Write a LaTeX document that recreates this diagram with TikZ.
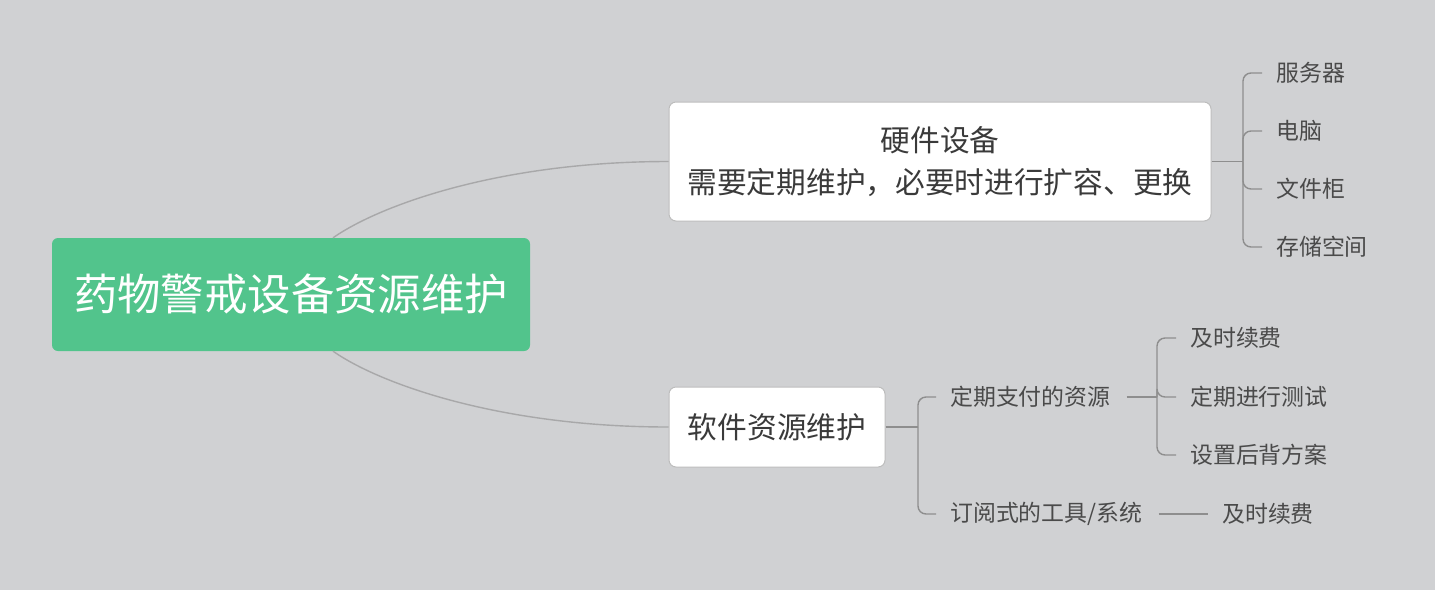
\documentclass[tikz,border=0pt]{standalone}
\usepackage{fontspec}
\setmainfont{Noto Sans CJK SC}
\begin{document}
\definecolor{bgc}{HTML}{D0D1D3}
\definecolor{rootc}{HTML}{52C48C}
\definecolor{boxline}{HTML}{BDBDBD}
\definecolor{rline}{HTML}{A8A8A9}
\definecolor{bline}{HTML}{8E8E8E}
\definecolor{txtc}{HTML}{3A3A3A}
\definecolor{leafc}{HTML}{4A4A4A}
\begin{tikzpicture}[x=1pt,y=-1pt,
  rootbox/.style={fill=rootc,draw=none,rounded corners=6pt,minimum width=478pt,minimum height=113pt,text=white,font=\fontsize{43.4}{48}\selectfont,inner sep=0pt},
  mainbox/.style={fill=white,draw=boxline,line width=1pt,rounded corners=7pt,text=txtc,font=\fontsize{29.7}{42}\selectfont,inner sep=0pt,align=center},
  leaf/.style={anchor=west,inner sep=0pt,text=leafc,font=\fontsize{22.9}{26}\selectfont},
  rootlink/.style={draw=rline,line width=1.4pt},
  branch/.style={draw=bline,line width=1.4pt,rounded corners=8pt}]
\fill[bgc] (0,0) rectangle (1435,590);
\useasboundingbox (0,0) rectangle (1435,590);

\node[rootbox] (root) at (291,294.5) {药物警戒设备资源维护};
\node[mainbox,minimum width=542pt,minimum height=119pt] (hw) at (940,161.5) {硬件设备\\需要定期维护，必要时进行扩容、更换};
\node[mainbox,minimum width=216pt,minimum height=80pt] (sw) at (777,427) {软件资源维护};

\draw[rootlink] ([xshift=42pt]root.north) .. controls (380,205) and (500,161.5) .. (hw.west);
\draw[rootlink] ([xshift=42pt]root.south) .. controls (380,384) and (500,427) .. (sw.west);

% hardware leaves
\node[leaf] (h1) at (1276,73) {服务器};
\node[leaf] (h2) at (1276,131) {电脑};
\node[leaf] (h3) at (1276,189) {文件柜};
\node[leaf] (h4) at (1276,247) {存储空间};
\coordinate (hj) at (1243,161.5);
\draw[branch] (hw.east) -- (hj);
\foreach \c in {h1,h2,h3,h4} {
  \draw[branch] (hj) |- ([xshift=-14pt]\c.west);
}

% software
\node[leaf] (s1) at (950,397) {定期支付的资源};
\node[leaf] (s2) at (950,514) {订阅式的工具/系统};
\coordinate (sj) at (918,427);
\draw[branch] (sw.east) -- (sj);
\foreach \c in {s1,s2} {
  \draw[branch] (sj) |- ([xshift=-14pt]\c.west);
}

\node[leaf] (p1) at (1190,338) {及时续费};
\node[leaf] (p2) at (1190,397) {定期进行测试};
\node[leaf] (p3) at (1190,455) {设置后背方案};
\coordinate (pj) at (1157,397);
\draw[branch] ([xshift=16pt]s1.east) -- (pj);
\foreach \c in {p1,p2,p3} {
  \draw[branch] (pj) |- ([xshift=-14pt]\c.west);
}

\node[leaf] (q1) at (1222,514) {及时续费};
\draw[branch] ([xshift=16pt]s2.east) -- ([xshift=-14pt]q1.west);
\end{tikzpicture}
\end{document}
